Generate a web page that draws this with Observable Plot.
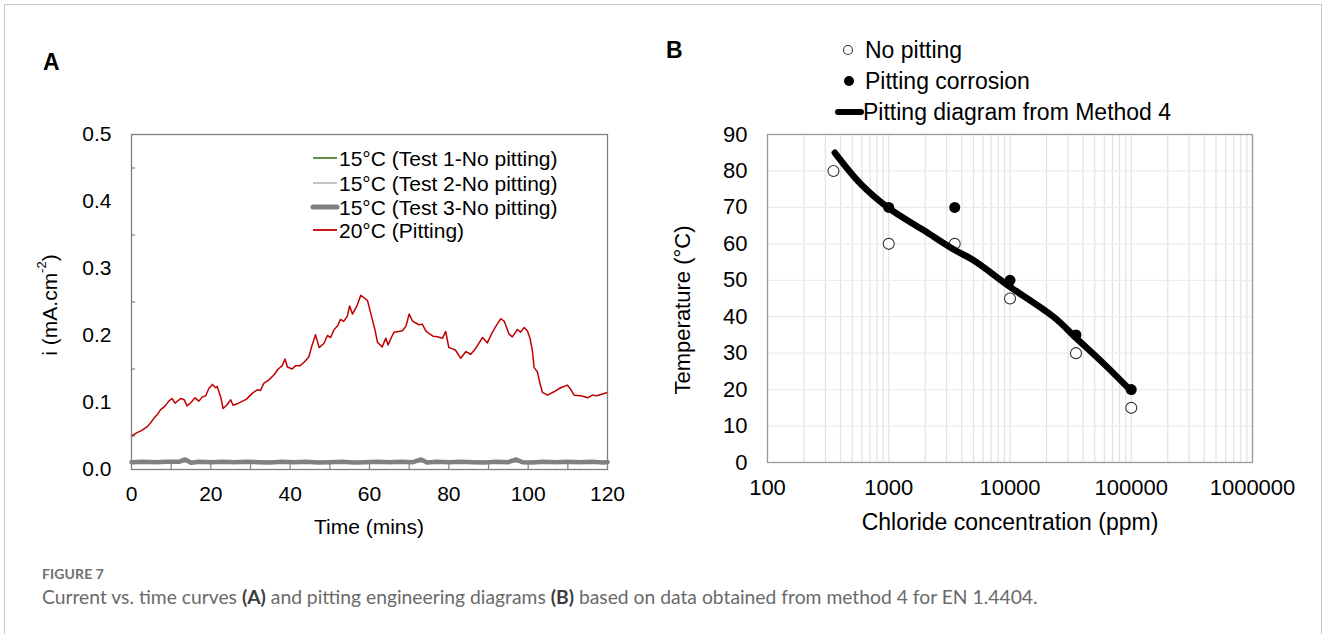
<!DOCTYPE html>
<html>
<head>
<meta charset="utf-8">
<script src="https://cdn.jsdelivr.net/npm/d3@7"></script>
<script src="https://cdn.jsdelivr.net/npm/@observablehq/plot@0.6"></script>
<style>
  html, body { margin: 0; padding: 0; background: #fff; }
  #fig { position: relative; width: 1328px; height: 634px; overflow: hidden; background: #fff; }
  #border { position: absolute; left: 4px; top: 4px; width: 1318px; height: 700px; border: 1px solid #c6c6c6; box-sizing: border-box; }
  .panel { position: absolute; top: 0; }
  .letter { position: absolute; font-family: "Liberation Sans", Arial, sans-serif; font-weight: bold; font-size: 23px; color: #000; }
  #figlabel { position: absolute; left: 42px; top: 565px; font-family: Lato, "Open Sans", sans-serif; font-size: 14px; font-weight: bold; color: #707070; letter-spacing: 0.1px; }
  #figcap { position: absolute; left: 42px; top: 585px; font-family: Lato, "Open Sans", sans-serif; font-size: 19.3px; color: #6a6a6a; white-space: nowrap; }
  #figcap b { color: #3c3c3c; }
</style>
</head>
<body>
<div id="fig">
  <div id="border"></div>
  <div class="panel" id="panelA" style="left:0px"></div>
  <div class="panel" id="panelB" style="left:660px"></div>
  <div class="letter" style="left:43px; top:49px">A</div>
  <div class="letter" style="left:666px; top:37px">B</div>
  <div id="figlabel">FIGURE 7</div>
  <div id="figcap">Current vs. time curves <b>(A)</b> and pitting engineering diagrams <b>(B)</b> based on data obtained from method 4 for EN 1.4404.</div>
</div>
<script>
// ---------------- Panel A data ----------------
const xTicksA = [0, 20, 40, 60, 80, 100, 120];
const xMinorA = [10, 20, 30, 40, 50, 60, 70, 80, 90, 100, 110];
const yTicksA = [0, 0.1, 0.2, 0.3, 0.4, 0.5];
const yMinorA = [0.05, 0.15, 0.25, 0.35, 0.45];

const seriesNamesA = ["15°C (Test 1-No pitting)", "15°C (Test 2-No pitting)", "15°C (Test 3-No pitting)", "20°C (Pitting)"];
const seriesColorsA = ["#548235", "#bfbfbf", "#808080", "#c00000"];
const seriesWidthsA = [1.5, 1.5, 4.5, 1.5];

const redTime = [0,1.4,2.5,4,5,5.6,6.5,7.3,8.5,9.4,10.2,11,12.4,13.3,14,15,16,17,17.8,18.7,19.5,20.4,21.2,21.6,22.5,23.1,24,25,25.6,27,29,30.5,31.7,32.5,33.4,34.5,35.9,37,38,38.7,39.3,40.5,41.4,42.5,43.5,44.7,45.5,46.4,47.3,48.5,49.4,50.2,51,52,52.7,53.5,54.4,55,55.7,56.9,57.8,58.7,59.5,60.7,61.4,62,63.2,64.1,64.7,65.5,66.2,67.3,68.3,69.2,70,70.8,71.6,72.5,73.3,74.2,75,76,77.1,78.4,79.2,80,81,81.7,83,84.3,85.5,86.4,87.2,88.5,89.7,91,92,93.1,94,95.2,96,97.3,98.1,99,99.8,100.5,101.1,101.5,102.3,103,103.6,104.9,106.5,108.2,109.9,110.8,111.6,113.3,115,116.2,117.3,118.3,120];
const redCurrent = [0.050,0.055,0.058,0.064,0.071,0.076,0.082,0.089,0.095,0.102,0.106,0.099,0.106,0.104,0.095,0.100,0.107,0.102,0.108,0.110,0.121,0.127,0.122,0.124,0.108,0.091,0.096,0.104,0.096,0.099,0.105,0.114,0.119,0.118,0.129,0.133,0.141,0.150,0.155,0.165,0.153,0.150,0.155,0.155,0.160,0.168,0.185,0.201,0.182,0.188,0.200,0.197,0.208,0.215,0.224,0.221,0.229,0.244,0.232,0.245,0.260,0.256,0.252,0.224,0.208,0.190,0.183,0.196,0.186,0.197,0.205,0.206,0.207,0.214,0.232,0.222,0.219,0.216,0.217,0.207,0.203,0.199,0.198,0.196,0.206,0.182,0.180,0.178,0.166,0.176,0.172,0.178,0.185,0.197,0.189,0.205,0.215,0.225,0.221,0.202,0.198,0.209,0.205,0.212,0.207,0.195,0.176,0.152,0.146,0.128,0.115,0.111,0.116,0.122,0.126,0.119,0.111,0.110,0.107,0.111,0.110,0.112,0.115];

const test1Time = [0,10,20,30,40,50,60,70,80,90,100,110,120];
const test1Current = [0.012,0.012,0.011,0.012,0.012,0.011,0.012,0.012,0.011,0.012,0.012,0.011,0.012];
const test2Time = [0,10,20,30,40,50,60,70,80,90,100,110,120];
const test2Current = [0.011,0.011,0.012,0.011,0.011,0.012,0.011,0.011,0.012,0.011,0.011,0.012,0.011];
const test3Time = [0,3,6,9,12,13.5,15,17,20,23,26,29,32,35,38,41,44,47,50,53,56,59,62,65,68,71,73,74.5,77,80,83,86,89,92,95,97,98.5,101,104,107,110,113,116,119,120];
const test3Current = [0.011,0.0115,0.011,0.0115,0.0115,0.015,0.010,0.0115,0.011,0.0115,0.011,0.0115,0.011,0.0105,0.0115,0.011,0.0115,0.0105,0.011,0.0115,0.0105,0.011,0.0115,0.011,0.0115,0.011,0.015,0.0105,0.0115,0.011,0.0115,0.011,0.0105,0.0115,0.011,0.015,0.011,0.0105,0.0115,0.011,0.0115,0.011,0.0115,0.0105,0.011];

// ---------------- Panel B data ----------------
const xTicksB = [100, 1000, 10000, 100000, 1000000];
const yTicksB = [0, 10, 20, 30, 40, 50, 60, 70, 80, 90];
const noPitConc = [350, 1000, 3500, 10000, 35000, 100000];
const noPitTemp = [80, 60, 60, 45, 30, 15];
const pitConc = [1000, 3500, 10000, 35000, 100000];
const pitTemp = [70, 70, 50, 35, 20];
const curveConc = [359, 585, 1000, 1945, 3500, 5000, 10000, 22960, 35000, 59400, 100000];
const curveTemp = [85, 76.5, 69.8, 63.7, 58.3, 55.5, 48.2, 39.9, 34.2, 27.1, 19.6];
const legendNamesB = ["No pitting", "Pitting corrosion", "Pitting diagram from Method 4"];

const FONT = '"Liberation Sans", Arial, Helvetica, sans-serif';

// ---------------- Build Panel A ----------------
const zip = (xs, ys) => xs.map((x, i) => ({x, y: ys[i]}));
const redData = zip(redTime, redCurrent);
const t1 = zip(test1Time, test1Current);
const t2 = zip(test2Time, test2Current);
const t3 = zip(test3Time, test3Current);

const svgA = Plot.plot({
  width: 660, height: 520,
  marginLeft: 131, marginRight: 53, marginTop: 134, marginBottom: 51,
  style: {fontFamily: FONT, fontSize: "21px", color: "#000", background: "none", overflow: "visible"},
  x: {domain: [0, 120]},
  y: {domain: [0, 0.5]},
  marks: [
    Plot.axisX({ticks: xTicksA, tickSize: 0, tickPadding: 17, tickFormat: d => String(d), label: null, fontSize: 21}),
    Plot.axisY({ticks: yTicksA, tickSize: 0, tickPadding: 20, tickFormat: d3.format(".1f"), label: null, fontSize: 21}),
    Plot.ruleX(xMinorA, {x: d => d, stroke: "#808080", strokeWidth: 1.2, insetTop: 330}),
    Plot.ruleY(yMinorA, {y: d => d, stroke: "#808080", strokeWidth: 1.2, insetRight: 472}),
    Plot.line(t1, {x: "x", y: "y", stroke: seriesColorsA[0], strokeWidth: seriesWidthsA[0]}),
    Plot.line(t2, {x: "x", y: "y", stroke: seriesColorsA[1], strokeWidth: seriesWidthsA[1]}),
    Plot.line(t3, {x: "x", y: "y", stroke: seriesColorsA[2], strokeWidth: seriesWidthsA[2]}),
    Plot.line(redData, {x: "x", y: "y", stroke: seriesColorsA[3], strokeWidth: seriesWidthsA[3]}),
    Plot.frame({stroke: "#808080", strokeWidth: 1.3})
  ]
});
document.getElementById("panelA").appendChild(svgA);

{
  const s = d3.select(svgA);
  s.append("text").attr("x", 369).attr("y", 526).attr("text-anchor", "middle").attr("dominant-baseline", "central")
    .attr("font-size", 21).attr("font-family", FONT).attr("fill", "#000").text("Time (mins)");
  const yl = s.append("text").attr("transform", "translate(49,305) rotate(-90)").attr("text-anchor", "middle")
    .attr("dominant-baseline", "central").attr("font-size", 21).attr("font-family", FONT).attr("fill", "#000");
  yl.append("tspan").text("i (mA.cm");
  yl.append("tspan").attr("font-size", 13).attr("dy", -8).text("-2");
  yl.append("tspan").attr("dy", 8).text(")");
  const lg = s.append("g").attr("text-anchor", "start");
  const rowsY = [158, 183, 207, 230];
  seriesNamesA.forEach((name, i) => {
    lg.append("line").attr("x1", 313).attr("x2", 337).attr("y1", rowsY[i]).attr("y2", rowsY[i])
      .attr("stroke", seriesColorsA[i]).attr("stroke-width", i === 2 ? 5 : 1.8).attr("stroke-linecap", i === 2 ? "round" : "butt");
    lg.append("text").attr("x", 339).attr("y", rowsY[i]).attr("dominant-baseline", "central").attr("text-anchor", "start")
      .attr("font-size", 21).attr("font-family", FONT).attr("fill", "#000").text(name);
  });
}

// ---------------- Build Panel B ----------------
const noPit = zip(noPitConc, noPitTemp);
const pit = zip(pitConc, pitTemp);
const curve = zip(curveConc, curveTemp);
const xGridB = d3.scaleLog().domain([100, 1000000]).ticks();

const svgB = Plot.plot({
  width: 668, height: 520,
  marginLeft: 107, marginRight: 76, marginTop: 134, marginBottom: 58,
  style: {fontFamily: FONT, fontSize: "22px", color: "#000", background: "none", overflow: "visible"},
  x: {type: "log", domain: [100, 1000000]},
  y: {domain: [0, 90]},
  marks: [
    Plot.gridX(xGridB, {stroke: "#e2e2e2", strokeOpacity: 1, strokeWidth: 1.2}),
    Plot.gridY(yTicksB, {stroke: "#ececec", strokeOpacity: 1, strokeWidth: 1.2}),
    Plot.axisX({ticks: xTicksB, tickSize: 0, tickPadding: 17, tickFormat: d3.format("d"), label: null, fontSize: 22}),
    Plot.axisY({ticks: yTicksB, tickSize: 0, tickPadding: 20, tickFormat: d3.format("d"), label: null, fontSize: 22}),
    Plot.dot(noPit, {x: "x", y: "y", r: 5.5, fill: "white", stroke: "#333", strokeWidth: 1.1}),
    Plot.dot(pit, {x: "x", y: "y", r: 5.5, fill: "#000"}),
    Plot.line(curve, {x: "x", y: "y", curve: "catmull-rom", stroke: "#000", strokeWidth: 6.5, strokeLinecap: "round"}),
    Plot.frame({stroke: "#9a9a9a", strokeWidth: 1.3})
  ]
});
document.getElementById("panelB").appendChild(svgB);

{
  const s = d3.select(svgB);
  s.append("text").attr("x", 350).attr("y", 522).attr("text-anchor", "middle").attr("dominant-baseline", "central")
    .attr("font-size", 23).attr("font-family", FONT).attr("fill", "#000").text("Chloride concentration (ppm)");
  s.append("text").attr("transform", "translate(22,310) rotate(-90)").attr("text-anchor", "middle")
    .attr("dominant-baseline", "central").attr("font-size", 22).attr("font-family", FONT).attr("fill", "#000")
    .text("Temperature (°C)");
  const lg = s.append("g").attr("text-anchor", "start");
  const rowsY = [50, 81, 112];
  lg.append("circle").attr("cx", 188).attr("cy", rowsY[0]).attr("r", 4.5).attr("fill", "white").attr("stroke", "#333").attr("stroke-width", 1.1);
  lg.append("circle").attr("cx", 189).attr("cy", rowsY[1]).attr("r", 5).attr("fill", "#000");
  lg.append("line").attr("x1", 178).attr("x2", 201).attr("y1", rowsY[2]).attr("y2", rowsY[2])
    .attr("stroke", "#000").attr("stroke-width", 6).attr("stroke-linecap", "round");
  const tx = [205, 205, 203];
  legendNamesB.forEach((name, i) => {
    lg.append("text").attr("x", tx[i]).attr("y", rowsY[i]).attr("dominant-baseline", "central").attr("text-anchor", "start")
      .attr("font-size", 23).attr("font-family", FONT).attr("fill", "#000").text(name);
  });
}
</script>
</body>
</html>
